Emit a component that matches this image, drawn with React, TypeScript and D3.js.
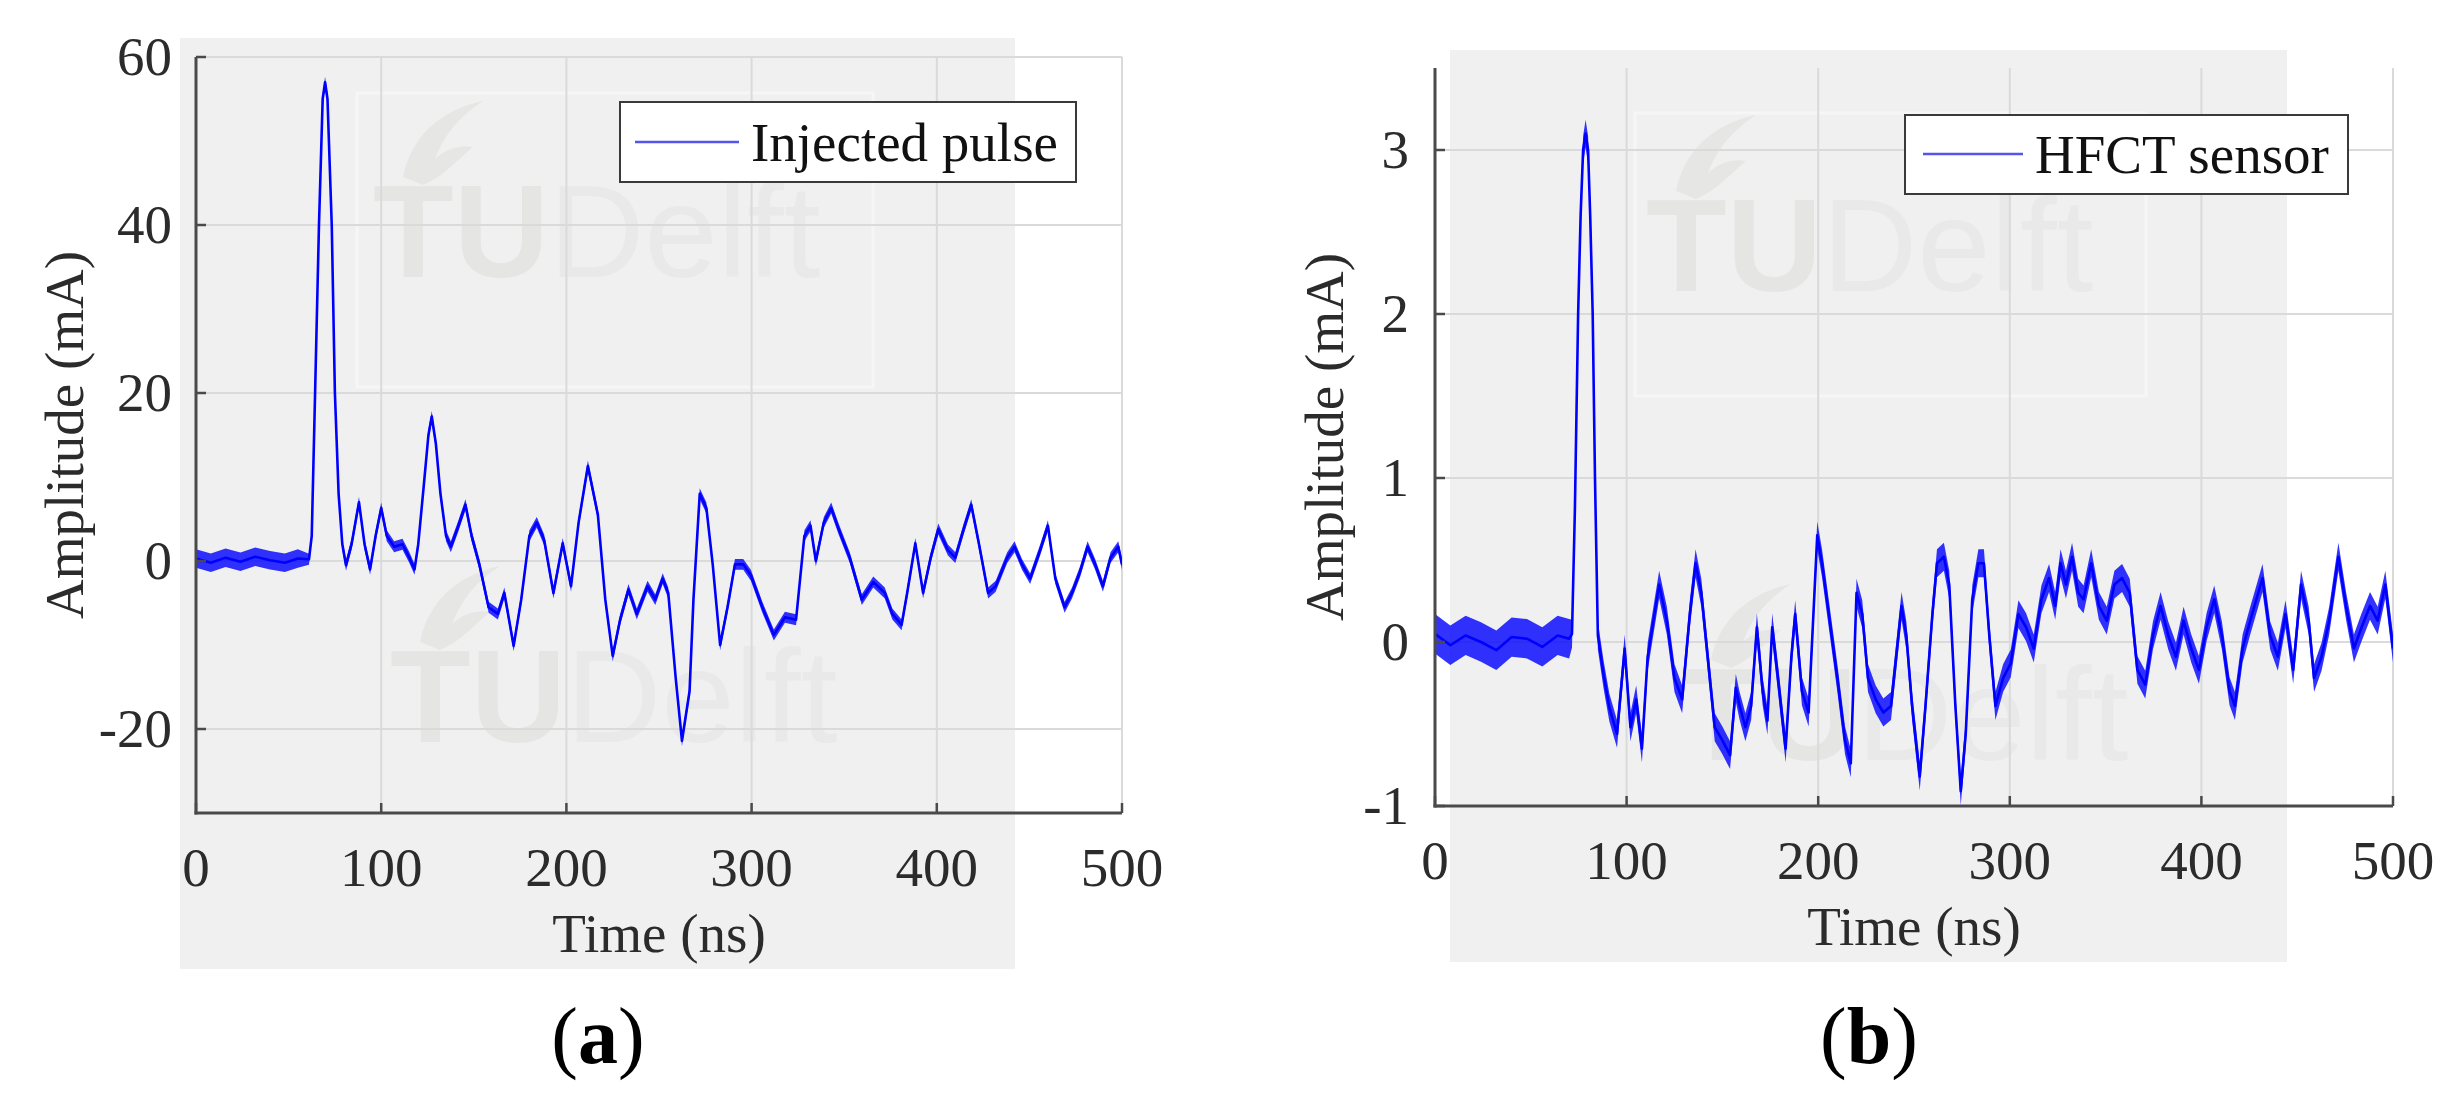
import React from "react";
import * as d3 from "d3";

// ---------------- DATA ----------------
// Panel (a): injected pulse, time (ns) and amplitude (mA)
const timeA = [
  0, 8, 16, 24, 32, 40, 48, 55, 61,
  62.5, 64.3, 66.4, 68.4, 69.7, 71, 73.3, 75, 77, 79, 81,
  84, 88, 91, 94, 97, 100, 103, 107, 111.5, 115, 118,
  120, 123, 125.5, 127.3, 129.5, 132, 135, 137.6, 141.7, 145.5, 148.8, 153, 158, 163, 166.5,
  171.5, 175.6, 180, 184, 188, 193, 198, 202.5, 206.6, 211.6, 217, 221, 225, 229, 233.5,
  238, 243.8, 248, 252, 255, 259, 262.4, 266.5, 268.6, 272, 275.6, 279, 283, 287, 291,
  295.5, 299.6, 305.8, 312, 318, 324, 328.5, 331.8, 334.7, 339, 343, 347, 353, 359.5,
  365.7, 371.9, 376, 381, 384, 388.4, 392.6, 396.7, 400.8, 406, 410, 414.5, 418.6, 422.7,
  427.7, 431.8, 438, 442, 446, 450.4, 455.8, 460, 464, 469, 473, 477.3, 481.4, 485.5,
  489.7, 493.8, 498, 500,
];
const valueA = [
  0.3, -0.2, 0.4, -0.1, 0.5, 0.1, -0.2, 0.3, 0.2,
  3, 20, 40, 55, 57, 55, 40, 20, 8, 2, -0.5,
  2, 7, 2, -1, 3, 6.3, 3, 1.7, 2, 0.5, -1,
  2, 9, 15, 17.2, 14, 8, 3, 1.7, 4.2, 6.7, 3, -0.4, -5.5, -6.3, -3.8,
  -10.1, -4.6, 3, 4.6, 2.5, -3.8, 2.1, -3, 4.6, 11.3, 5.5, -4.6, -11.3, -7, -3.4,
  -6.3, -3, -4.6, -2.1, -3.8, -13.9, -21.4, -15.5, -4.6, 8, 6.3, -0.4, -10, -5.5, -0.4,
  -0.4, -1.7, -5.5, -8.8, -6.7, -7, 3, 4.2, 0, 4.6, 6.3, 3.8, 0.4, -4.6,
  -2.5, -3.8, -6.3, -7.6, -3.8, 2.1, -3.8, 0.4, 3.8, 1.3, 0.4, 3.8, 6.7, 2.1,
  -3.8, -3, 0.4, 1.7, -0.4, -2.1, 1.3, 4.2, -2.1, -5.5, -3.8, -1.3, 1.7, -0.4,
  -3, 0.4, 1.7, -0.4,
];
// visible noise half-width of trace (a): before / after pulse onset
const noiseStepA = [61];
const noiseHalfA = [1.1, 0.65];

// Panel (b): HFCT sensor
const timeB = [
  0, 8, 16, 24, 32, 40, 48, 56, 64, 70,
  71.5, 73, 74.7, 76, 77.3, 78.6, 79.9, 81, 82.3, 83.5, 85,
  88, 91, 95, 99, 102, 105, 108, 111, 114, 117, 121, 125, 129, 133, 136, 139, 143,
  146, 150, 154, 157, 159, 162, 165, 168, 171, 173.5, 176, 179, 183, 186, 188, 191.5,
  195, 199.5, 202, 206, 210, 214, 217, 220, 223, 226, 230, 234, 238, 243.5, 246, 249,
  253, 256, 259.6, 262, 265.6, 268.4, 271.6, 274.4, 277, 280.4, 283.6, 286.5, 289.3,
  292.5, 296.5, 300.5, 304.5, 308.5, 312.5, 316.5, 320.5, 323.7, 326.5, 329.3, 332.5,
  335.7, 338.5, 342.5, 346.5, 350.6, 354.6, 358.6, 362.6, 366.6, 370.7, 374.7, 378.7,
  382.7, 386.7, 390.7, 394.7, 398.7, 402.7, 406.7, 410.7, 414.7, 417.5, 421.5, 425.5,
  428.7, 431.9, 435.9, 439.9, 443.9, 447.9, 452, 456, 458.8, 462.7, 466.7, 471.5, 475.5,
  479.6, 483.6, 488, 492, 496, 500,
];
const valueB = [
  0.05, -0.02, 0.04, 0, -0.05, 0.03, 0.02, -0.03, 0.04, 0.02,
  0.05, 0.8, 2, 2.6, 3, 3.1, 3, 2.6, 2, 1, 0.04,
  -0.2, -0.4, -0.56, -0.04, -0.52, -0.35, -0.65, -0.09, 0.13, 0.35, 0.13, -0.22, -0.35, 0.17, 0.48, 0.3, -0.17,
  -0.52, -0.6, -0.69, -0.28, -0.39, -0.52, -0.39, 0.09, -0.3, -0.48, 0.09, -0.22, -0.65, -0.09, 0.17, -0.3,
  -0.43, 0.65, 0.48, 0.13, -0.22, -0.6, -0.74, 0.3, 0.17, -0.22, -0.35, -0.43, -0.39, 0.22, 0.04, -0.39,
  -0.82, -0.39, 0.17, 0.48, 0.52, 0.35, -0.39, -0.91, -0.56, 0.26, 0.48, 0.48, 0.04,
  -0.39, -0.22, -0.13, 0.17, 0.09, -0.04, 0.26, 0.39, 0.22, 0.48, 0.35, 0.52,
  0.3, 0.26, 0.48, 0.22, 0.13, 0.35, 0.39, 0.3, -0.17, -0.26, 0.04, 0.22,
  0.04, -0.09, 0.13, -0.04, -0.17, 0.09, 0.26, 0.04, -0.3, -0.39, -0.04, 0.13,
  0.26, 0.39, 0.04, -0.09, 0.17, -0.17, 0.35, 0.13, -0.22, -0.09, 0.13, 0.52, 0.22,
  -0.04, 0.09, 0.22, 0.13, 0.35, -0.04,
];
const noiseStepB = [71];
const noiseHalfB = [0.12, 0.085];

// Axis ticks
const xTicks = [0, 100, 200, 300, 400, 500];
const xTickLabels = ["0", "100", "200", "300", "400", "500"];
const yTicksA = [-20, 0, 20, 40, 60];
const yTickLabelsA = ["-20", "0", "20", "40", "60"];
const yTicksB = [-1, 0, 1, 2, 3];
const yTickLabelsB = ["-1", "0", "1", "2", "3"];
const yDomainA = [-30, 60];
const yDomainB = [-1, 3.5];
const xDomain = [0, 500];

const legendA = "Injected pulse";
const legendB = "HFCT sensor";
const xTitle = "Time (ns)";
const yTitle = "Amplitude (mA)";
const captionA = "a";
const captionB = "b";

// ---------------- LAYOUT ----------------
const W = 2455;
const H = 1106;
const SERIF = "'Liberation Serif', 'Times New Roman', serif";
const SANS = "'Liberation Sans', Arial, sans-serif";
const BLUE = "#0000ff";

type Layout = {
  left: number; right: number; top: number; bottom: number;
  bg: [number, number, number, number];
  legend: [number, number, number, number];
  lineX: [number, number]; lineY: number; textX: number; textY: number;
  yLabelX: number; tickGap: number; captionX: number;
  marks: { x: number; y: number }[];
  markBox: [number, number, number, number];
};

const layoutA: Layout = {
  left: 196, right: 1122, top: 57, bottom: 813,
  bg: [180, 38, 1015, 969],
  legend: [620, 102, 1076, 182],
  lineX: [635, 739], lineY: 142, textX: 751, textY: 161,
  yLabelX: 83, tickGap: 24, captionX: 598,
  marks: [{ x: 373, y: 277 }, { x: 390, y: 742 }],
  markBox: [357, 93, 873, 387],
};
const layoutB: Layout = {
  left: 1435, right: 2393, top: 68, bottom: 806,
  bg: [1450, 50, 2287, 962],
  legend: [1905, 115, 2348, 194],
  lineX: [1923, 2023], lineY: 154, textX: 2035, textY: 173,
  yLabelX: 1343, tickGap: 26, captionX: 1869,
  marks: [{ x: 1646, y: 291 }, { x: 1681, y: 760 }],
  markBox: [1635, 113, 2146, 396],
};

type PanelProps = {
  L: Layout;
  time: number[]; value: number[];
  noiseStep: number[]; noiseHalf: number[];
  yDomain: number[]; yTicks: number[]; yTickLabels: string[];
  legend: string; caption: string; id: string;
};

function Watermark({ x, y }: { x: number; y: number }) {
  return (
    <g>
      <path
        d={`M ${x + 30} ${y - 100} C ${x + 40} ${y - 150}, ${x + 80} ${y - 170}, ${x + 110} ${y - 176} C ${x + 85} ${y - 160}, ${x + 70} ${y - 140}, ${x + 62} ${y - 118} C ${x + 75} ${y - 130}, ${x + 90} ${y - 132}, ${x + 100} ${y - 130} C ${x + 85} ${y - 118}, ${x + 70} ${y - 100}, ${x + 50} ${y - 92} Z`}
        fill="#e6e6e4"
      />
      <text x={x} y={y} fontFamily={SANS} fontSize={132} fill="#e5e5e3">
        <tspan fontWeight="bold">TU</tspan>
        <tspan fill="#e9e9e9">Delft</tspan>
      </text>
    </g>
  );
}

function Panel(p: PanelProps) {
  const { L } = p;
  const x = d3.scaleLinear().domain(xDomain).range([L.left, L.right]);
  const y = d3.scaleLinear().domain(p.yDomain).range([L.bottom, L.top]);
  const pts = p.time.map((t, i) => ({ t, v: p.value[i] }));
  const half = (t: number) => p.noiseHalf[d3.bisectRight(p.noiseStep, t)];
  const line = d3.line<{ t: number; v: number }>().x((d) => x(d.t)).y((d) => y(d.v));
  const area = d3
    .area<{ t: number; v: number }>()
    .x((d) => x(d.t))
    .y0((d) => y(d.v - half(d.t)))
    .y1((d) => y(d.v + half(d.t)));
  const [bx0, by0, bx1, by1] = L.bg;
  const [lx0, ly0, lx1, ly1] = L.legend;
  const [mx0, my0, mx1, my1] = L.markBox;
  const gridY = p.yTicks.filter((v) => v !== p.yDomain[0]);
  const gridX = xTicks.filter((v) => v !== xDomain[0]);
  const midY = (L.top + L.bottom) / 2;
  const midX = (L.left + L.right) / 2;
  return (
    <g>
      <rect x={bx0} y={by0} width={bx1 - bx0} height={by1 - by0} fill="#f0f0f0" />
      <rect x={mx0} y={my0} width={mx1 - mx0} height={my1 - my0} fill="none" stroke="#f6f6f6" strokeWidth={3} />
      {L.marks.map((m, i) => (
        <Watermark key={i} x={m.x} y={m.y} />
      ))}
      {/* grid */}
      {gridY.map((v) => (
        <line key={"gy" + v} x1={L.left} x2={L.right} y1={y(v)} y2={y(v)} stroke="#dadada" strokeWidth={2} />
      ))}
      {gridX.map((v) => (
        <line key={"gx" + v} x1={x(v)} x2={x(v)} y1={L.top} y2={L.bottom} stroke="#dadada" strokeWidth={2} />
      ))}
      {/* trace */}
      <clipPath id={"clip" + p.id}>
        <rect x={L.left} y={L.top} width={L.right - L.left} height={L.bottom - L.top} />
      </clipPath>
      <g clipPath={`url(#clip${p.id})`}>
        <path d={area(pts) || ""} fill={BLUE} fillOpacity={0.8} />
        <path d={line(pts) || ""} fill="none" stroke={BLUE} strokeWidth={2.6} strokeLinejoin="round" />
      </g>
      {/* axes */}
      <line x1={L.left} x2={L.left} y1={L.top} y2={L.bottom + 1.5} stroke="#4a4a4a" strokeWidth={3} />
      <line x1={L.left - 1.5} x2={L.right} y1={L.bottom} y2={L.bottom} stroke="#4a4a4a" strokeWidth={3} />
      {xTicks.map((v, i) => (
        <g key={"xt" + v}>
          <line x1={x(v)} x2={x(v)} y1={L.bottom} y2={L.bottom - 10} stroke="#4a4a4a" strokeWidth={2.5} />
          <text x={x(v)} y={L.bottom + 73} textAnchor="middle" fontFamily={SERIF} fontSize={55} fill="#2b2b2b">
            {xTickLabels[i]}
          </text>
        </g>
      ))}
      {p.yTicks.map((v, i) => (
        <g key={"yt" + v}>
          <line x1={L.left} x2={L.left + 10} y1={y(v)} y2={y(v)} stroke="#4a4a4a" strokeWidth={2.5} />
          <text x={L.left - p.L.tickGap} y={y(v) + 18} textAnchor="end" fontFamily={SERIF} fontSize={55} fill="#2b2b2b">
            {p.yTickLabels[i]}
          </text>
        </g>
      ))}
      <text x={midX} y={L.bottom + 139} textAnchor="middle" fontFamily={SERIF} fontSize={55} fill="#2b2b2b">
        {xTitle}
      </text>
      <text
        transform={`translate(${L.yLabelX},${midY}) rotate(-90)`}
        textAnchor="middle"
        fontFamily={SERIF}
        fontSize={55}
        fill="#2b2b2b"
      >
        {yTitle}
      </text>
      {/* legend */}
      <rect x={lx0} y={ly0} width={lx1 - lx0} height={ly1 - ly0} fill="#ffffff" stroke="#3a3a3a" strokeWidth={2} />
      <line x1={L.lineX[0]} x2={L.lineX[1]} y1={L.lineY} y2={L.lineY} stroke="#5555ee" strokeWidth={2.5} />
      <text x={L.textX} y={L.textY} fontFamily={SERIF} fontSize={55} fill="#111">
        {p.legend}
      </text>
      {/* caption */}
      <text x={L.captionX} y={1063} textAnchor="middle" fontFamily={SERIF} fontSize={80} fill="#000">
        (<tspan fontWeight="bold">{p.caption}</tspan>)
      </text>
    </g>
  );
}

export default function App() {
  return (
    <svg
      width={W}
      height={H}
      viewBox={`0 0 ${W} ${H}`}
      style={{ position: "absolute", left: 0, top: 0, background: "#ffffff" }}
    >
      <rect x={0} y={0} width={W} height={H} fill="#ffffff" />
      <Panel
        id="a"
        L={layoutA}
        time={timeA}
        value={valueA}
        noiseStep={noiseStepA}
        noiseHalf={noiseHalfA}
        yDomain={yDomainA}
        yTicks={yTicksA}
        yTickLabels={yTickLabelsA}
        legend={legendA}
        caption={captionA}
      />
      <Panel
        id="b"
        L={layoutB}
        time={timeB}
        value={valueB}
        noiseStep={noiseStepB}
        noiseHalf={noiseHalfB}
        yDomain={yDomainB}
        yTicks={yTicksB}
        yTickLabels={yTickLabelsB}
        legend={legendB}
        caption={captionB}
      />
    </svg>
  );
}
